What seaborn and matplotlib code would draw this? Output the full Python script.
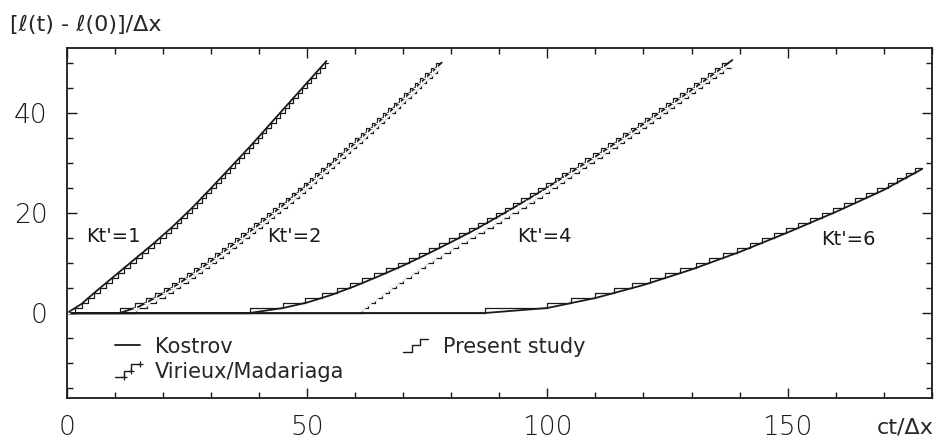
import matplotlib
matplotlib.use("Agg")
import matplotlib.pyplot as plt
import seaborn as sns
from matplotlib.ticker import MultipleLocator
from matplotlib.legend_handler import HandlerBase
from matplotlib.lines import Line2D

# Kostrov analytical solution (ct/dx, [l(t)-l(0)]/dx)
kostrov_1_t = [0, 3, 6, 10, 14, 18, 22, 26, 30, 34, 38, 42, 46, 50, 54]
kostrov_1_l = [0, 1.8, 4.3, 7.5, 10.7, 13.9, 17.3, 21.0, 25.0, 29.1, 33.2, 37.5, 41.8, 46.1, 50.4]

kostrov_2_t = [0, 11, 15, 20, 25, 30, 35, 40, 45, 50, 55, 60, 65, 70, 75, 78]
kostrov_2_l = [0, 0, 1.3, 3.9, 7.0, 10.4, 14.0, 17.75, 21.6, 25.6, 29.75, 34.0, 38.35, 42.8, 47.35, 50.1]

kostrov_4_t = [0, 38, 45, 50, 55, 60, 65, 70, 75, 80, 85, 90, 95, 100, 105, 110, 115, 120, 125, 130, 135, 138.5]
kostrov_4_l = [0, 0, 1.0, 2.1, 3.6, 5.4, 7.4, 9.5, 11.8, 14.2, 16.7, 19.4, 22.2, 25.1, 28.2, 31.3, 34.5, 37.8, 41.2, 44.6, 48.1, 50.6]

kostrov_6_t = [0, 87, 100, 110, 120, 130, 140, 150, 160, 170, 178]
kostrov_6_l = [0, 0, 1.0, 3.0, 5.6, 8.7, 12.2, 16.1, 20.2, 24.6, 28.8]

# time at which the numerical crack reaches cell k (list index = k)
present_1 = [0, 1.7, 3.2, 4.4, 5.6, 6.9, 8.1, 9.4, 10.6, 11.9, 13.1, 14.4, 15.6, 16.9, 18.1, 19.3,
             20.5, 21.6, 22.8, 23.8, 24.9, 26.0, 27.0, 28.0, 29.0, 30.0, 31.0, 32.0, 32.9, 33.9,
             34.9, 35.9, 36.8, 37.8, 38.7, 39.7, 40.6, 41.5, 42.5, 43.4, 44.3, 45.3, 46.2, 47.1,
             48.1, 49.0, 49.9, 50.8, 51.8, 52.7, 53.6]
present_1_end = 54.4

present_2 = [0, 11, 14.1, 16.4, 18.3, 20.2, 21.8, 23.4, 25.0, 26.5, 27.9, 29.4, 30.8, 32.2, 33.6,
             35.0, 36.3, 37.7, 39.0, 40.3, 41.6, 42.9, 44.2, 45.5, 46.8, 48.0, 49.3, 50.5, 51.7,
             52.9, 54.1, 55.3, 56.5, 57.7, 58.8, 60.0, 61.2, 62.3, 63.5, 64.6, 65.7, 66.9, 68.0,
             69.1, 70.2, 71.3, 72.4, 73.5, 74.6, 75.7, 76.8]
present_2_end = 77.6

present_4 = [0, 38, 45, 49.6, 53.0, 56.1, 58.9, 61.5, 64.0, 66.4, 68.8, 71.1, 73.3, 75.4, 77.5,
             79.6, 81.6, 83.6, 85.6, 87.4, 89.3, 91.1, 92.9, 94.6, 96.4, 98.1, 99.8, 101.5, 103.1,
             104.7, 106.3, 107.9, 109.5, 111.1, 112.7, 114.2, 115.8, 117.3, 118.8, 120.3, 121.8,
             123.2, 124.7, 126.2, 127.7, 129.1, 130.6, 132.0, 133.4, 134.9, 136.3]
present_4_end = 137.6

present_6 = [0, 87, 100, 105, 110, 113.9, 117.7, 121.3, 124.5, 127.7, 130.9, 133.7, 136.6, 139.4,
             142.1, 144.6, 147.2, 149.7, 152.2, 154.6, 157.1, 159.5, 161.8, 164.1, 166.4, 168.6,
             170.8, 172.7, 174.6, 176.5]
present_6_end = 178.0

virieux_2 = [0, 14.3, 16.6, 18.5, 20.4, 22.0, 23.6, 25.2, 26.7, 28.1, 29.6, 31.0, 32.4, 33.8, 35.2,
             36.5, 37.9, 39.2, 40.5, 41.8, 43.1, 44.4, 45.7, 47.0, 48.2, 49.5, 50.7, 51.9, 53.1,
             54.3, 55.5, 56.7, 57.9, 59.0, 60.2, 61.4, 62.5, 63.7, 64.8, 65.9, 67.1, 68.2, 69.3,
             70.4, 71.5, 72.6, 73.7, 74.8, 75.9, 77.0]
virieux_2_end = 78.0

virieux_4 = [0, 61.3, 62.7, 64.1, 65.6, 67.0, 68.4, 70.0, 71.5, 73.0, 74.6, 76.2, 77.9, 79.7, 81.4,
             83.2, 85.0, 86.8, 88.6, 90.4, 92.1, 93.9, 95.6, 97.2, 98.8, 100.3, 101.9, 103.4, 105.0,
             106.5, 108.0, 109.6, 111.4, 112.9, 114.4, 116.0, 117.5, 119.0, 120.5, 122.0, 123.4,
             124.9, 126.4, 127.9, 129.3, 130.8, 132.2, 133.6, 135.1, 136.5]
virieux_4_end = 138.8

curve_labels = ["Kt'=1", "Kt'=2", "Kt'=4", "Kt'=6"]
label_x = [4, 41.7, 93.7, 157]
label_y = [15.3, 15.3, 15.3, 14.8]


class StairHandler(HandlerBase):
    def __init__(self, crosses=False):
        super().__init__()
        self.crosses = crosses

    def create_artists(self, legend, orig_handle, xdescent, ydescent, width, height, fontsize, trans):
        fx = [0, 0.35, 0.35, 0.65, 0.65, 1.0]
        fy = [0.05, 0.05, 0.5, 0.5, 0.95, 0.95]
        xs = [-xdescent + f * width for f in fx]
        ys = [-ydescent + f * height for f in fy]
        line = Line2D(xs, ys, color="k", lw=1.0, transform=trans)
        arts = [line]
        if self.crosses:
            arts.append(Line2D(xs[1::2], ys[1::2], ls="none", marker="+", ms=4,
                               mew=0.9, color="k", transform=trans))
        return arts


sns.set_theme(style="ticks")
plt.rcParams["font.family"] = ["DejaVu Sans"]

fig = plt.figure(figsize=(9.44, 4.43), dpi=100)
ax = fig.add_axes([0.071, 0.1016, 0.916, 0.790])

for t, l in [(kostrov_1_t, kostrov_1_l), (kostrov_2_t, kostrov_2_l),
             (kostrov_4_t, kostrov_4_l), (kostrov_6_t, kostrov_6_l)]:
    sns.lineplot(x=t, y=l, color="k", lw=1.3, estimator=None, sort=False, ax=ax)

for steps, end in [(present_1, present_1_end), (present_2, present_2_end),
                   (present_4, present_4_end), (present_6, present_6_end)]:
    levels = list(range(len(steps)))
    sns.lineplot(x=steps + [end], y=levels + [levels[-1]], color="k", lw=0.9,
                 drawstyle="steps-post", estimator=None, sort=False, ax=ax)

for steps, end in [(virieux_2, virieux_2_end), (virieux_4, virieux_4_end)]:
    levels = list(range(len(steps)))
    sns.lineplot(x=steps + [end], y=levels + [levels[-1]], color="k", lw=0.9,
                 drawstyle="steps-post", marker="+", markersize=4, markeredgewidth=0.9,
                 estimator=None, sort=False, ax=ax)

for txt, x, y in zip(curve_labels, label_x, label_y):
    ax.text(x, y, txt, fontsize=14, va="center", ha="left", color="k")

ax.set_xlim(0, 180)
ax.set_ylim(-17, 53)
ax.set_xticks([0, 50, 100, 150])
ax.set_yticks([0, 20, 40])
ax.xaxis.set_minor_locator(MultipleLocator(10))
ax.yaxis.set_minor_locator(MultipleLocator(5))
ax.tick_params(which="both", direction="in", top=True, right=True, width=1, colors="k")
ax.tick_params(which="major", length=7, labelsize=19)
ax.tick_params(which="minor", length=4)
ax.tick_params(axis="x", pad=12)
ax.tick_params(axis="y", pad=14)
for lbl in ax.get_xticklabels() + ax.get_yticklabels():
    lbl.set_fontweight("light")
for s in ax.spines.values():
    s.set_linewidth(1.3)
    s.set_color("k")
ax.set_xlabel("")
ax.set_ylabel("")

h_k = Line2D([], [], color="k", lw=1.3)
h_v = Line2D([], [], color="k")
h_p = Line2D([], [], color="k")
ax.legend([h_k, h_v, h_p], ["Kostrov", "Virieux/Madariaga", "Present study"],
          handler_map={h_v: StairHandler(crosses=True), h_p: StairHandler()},
          ncol=2, loc="upper left", bbox_to_anchor=(0.0555, 0.175), frameon=False,
          fontsize=15, handlelength=1.2, handletextpad=0.7, columnspacing=2.85,
          labelspacing=0.25, borderpad=0, borderaxespad=0)

fig.text(0.011, 0.943, "[ℓ(t) - ℓ(0)]/Δx", fontsize=16, va="center", ha="left")
fig.text(0.929, 0.036, "ct/Δx", fontsize=16, va="center", ha="left")

fig.savefig("out.png", dpi=100)
